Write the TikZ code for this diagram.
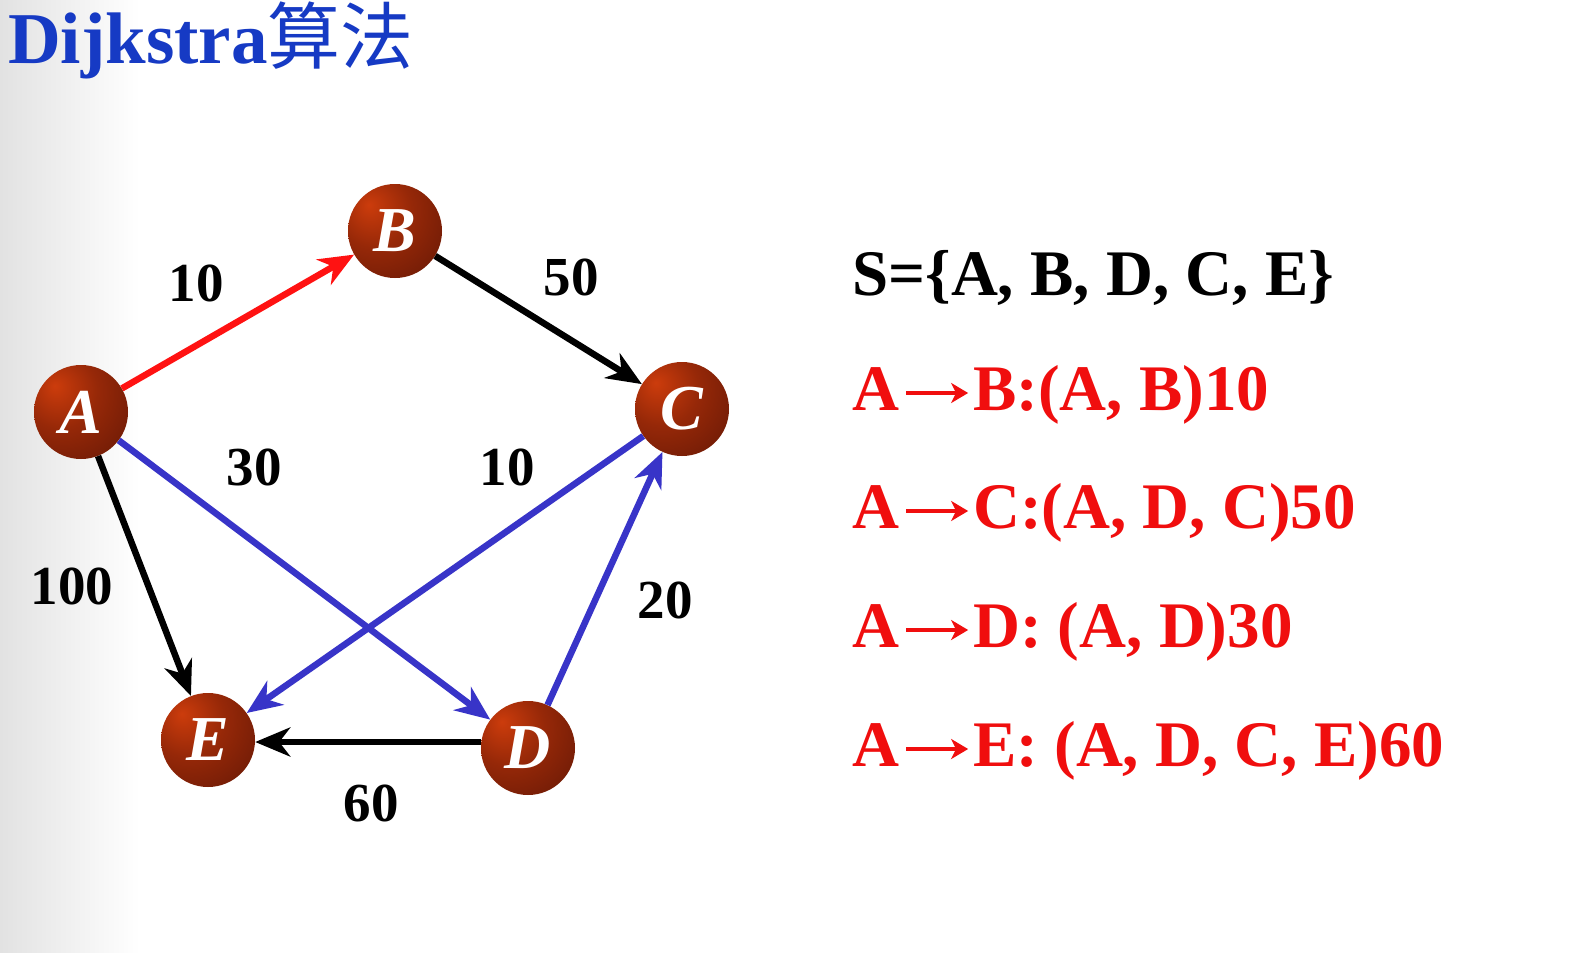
\documentclass[tikz,border=0pt]{standalone}
\usepackage{fontspec}
\setmainfont{Liberation Serif}
\newfontfamily\cjk{Noto Sans CJK SC}
\usetikzlibrary{arrows.meta}
\definecolor{titleblue}{RGB}{22,58,196}
\definecolor{edgeblue}{RGB}{56,52,200}
\definecolor{edgered}{RGB}{255,18,18}
\definecolor{txtred}{RGB}{240,14,14}
\definecolor{bggray}{RGB}{226,226,226}
\definecolor{ballhi}{RGB}{204,60,12}
\definecolor{ballmid}{RGB}{150,40,8}
\definecolor{balldark}{RGB}{96,22,5}
\pgfdeclareradialshading{redball}{\pgfpoint{-14bp}{14bp}}{color(0bp)=(ballhi); color(20bp)=(ballmid); color(50bp)=(balldark); color(100bp)=(balldark)}
\newcommand{\rarr}{\hspace{5pt}\tikz[baseline=0pt]{\draw[line width=4pt, -{Stealth[length=17pt,width=20pt,inset=5pt]}] (0pt,17pt) -- (62pt,17pt);}\hspace{3pt}}
\tikzset{
  vertex/.style={circle, minimum size=94pt, inner sep=0pt, shading=redball, text=white,
    font=\fontsize{64}{64}\selectfont\bfseries\itshape},
  arr/.style={line width=6.5pt, -{Stealth[length=35pt,width=29pt,inset=11pt]}},
  lbl/.style={inner sep=0pt, font=\fontsize{55}{55}\selectfont\bfseries},
  rtext/.style={anchor=base west, inner sep=0pt, font=\fontsize{65}{65}\selectfont\bfseries},
}
\begin{document}
\begin{tikzpicture}[x=1pt,y=-1pt]
\useasboundingbox (0,0) rectangle (1572,953);
\fill[white] (0,0) rectangle (1572,953);
\shade[left color=bggray, right color=white] (0,0) rectangle (140,953);

% title
\node[anchor=base west, inner sep=0pt, text=titleblue] (title) at (8,63)
  {\fontsize{73}{73}\selectfont\bfseries Dijkstra{\cjk\mdseries 算法}};

% vertices
\node[vertex] (A) at (81,412) {A};
\node[vertex] (B) at (395,231) {B};
\node[vertex] (C) at (682,409) {C};
\node[vertex] (D) at (528,748) {D};
\node[vertex] (E) at (208,740) {E};

% edges
\draw[arr, edgered] (A) -- (B);
\draw[arr, black] (B) -- (C);
\draw[arr, black] (A) -- (E);
\draw[arr, edgeblue] (A) -- (D);
\draw[arr, edgeblue] (C) -- (E);
\draw[arr, edgeblue] (D) -- (C);
\draw[arr, black] ([yshift=6pt]D.west) -- ([yshift=-2pt]E.east);

% edge labels
\node[lbl] (lab) at (196,283) {10};
\node[lbl] (lbc) at (571,277) {50};
\node[lbl] (lad) at (254,467) {30};
\node[lbl] (lce) at (507,467) {10};
\node[lbl] (lae) at (72,586) {100};
\node[lbl] (ldc) at (665,600) {20};
\node[lbl] (lde) at (371,803) {60};

% right text
\node[rtext] (S) at (852,295) {S=\{A, B, D, C, E\}};
\node[rtext, text=txtred] (r1) at (852,410) {A\rarr B:(A, B)10};
\node[rtext, text=txtred] (r2) at (852,528) {A\rarr C:(A, D, C)50};
\node[rtext, text=txtred] (r3) at (852,647) {A\rarr D: (A, D)30};
\node[rtext, text=txtred] (r4) at (852,766) {A\rarr E: (A, D, C, E)60};
\end{tikzpicture}
\end{document}
